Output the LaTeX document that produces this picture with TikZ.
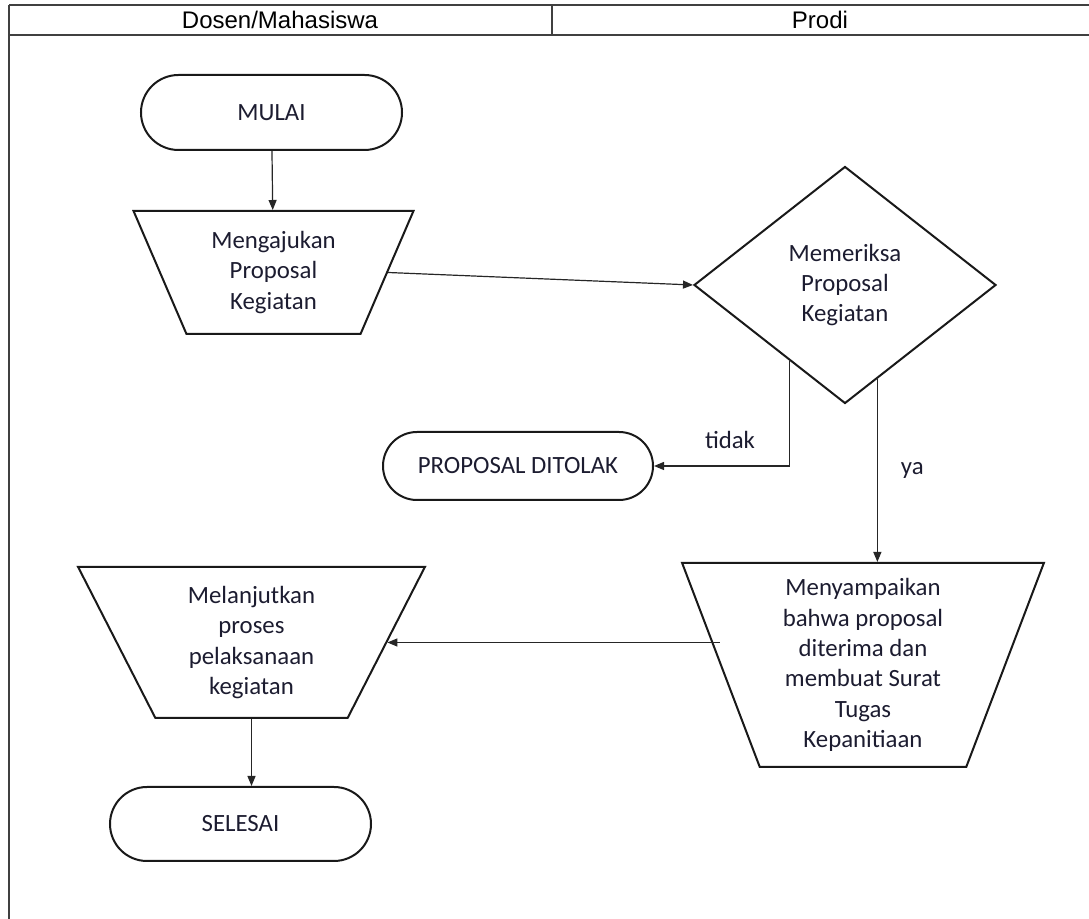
\documentclass[tikz,border=0pt]{standalone}
\usepackage{fontspec}
\setmainfont{Carlito}
\newfontfamily\headfont{Liberation Sans}
\usetikzlibrary{shapes.geometric,shapes.misc,arrows.meta}
\definecolor{txt}{RGB}{28,28,48}
\begin{document}
\begin{tikzpicture}[x=0.5pt,y=-0.5pt,
  every node/.style={font=\fontsize{12.4}{15.2}\selectfont, text=txt},
  term/.style={rounded rectangle, draw=black!90, line width=1pt, inner sep=0pt},
  proc/.style={trapezium, shape border rotate=180, trapezium stretches=true, draw=black!90, line width=1pt, inner sep=0pt, align=center},
  decide/.style={diamond, draw=black!90, line width=1pt, inner sep=0pt, align=center},
  conn/.style={draw=black!85, line width=0.6pt, -{Triangle[length=5pt,width=4pt]}},
  lane/.style={draw=black!75, line width=1.3pt},
  head/.style={font=\headfont\fontsize{12}{14}\selectfont, text=black},
  lbl/.style={inner sep=0pt}
]
\useasboundingbox (0,0) rectangle (1089,919);
% swimlane frame
\draw[lane] (9,5) -- (1089,5);
\draw[lane] (9,35) -- (1089,35);
\draw[lane] (9,5) -- (9,919);
\draw[lane] (552,5) -- (552,35);
\node[head] (h1) at (280,20) {Dosen/Mahasiswa};
\node[head] (h2) at (820,20) {Prodi};
% nodes
\node[term, minimum width=130.5pt, minimum height=37.5pt] (mulai) at (271.5,112.5) {MULAI};
\node[proc, minimum width=141.5pt, minimum height=61.5pt, trapezium angle=65.3] (ajukan) at (273.5,272.5) {Mengajukan\\Proposal\\Kegiatan};
\node[decide, minimum width=151pt, minimum height=118.5pt] (periksa) at (845,285) {Memeriksa\\Proposal\\Kegiatan};
\node[term, minimum width=135pt, minimum height=34pt] (tolak) at (518,466) {PROPOSAL DITOLAK};
\node[proc, minimum width=181pt, minimum height=102pt, trapezium angle=70.8] (sampaikan) at (863,665) {Menyampaikan\\bahwa proposal\\diterima dan\\membuat Surat\\Tugas\\Kepanitiaan};
\node[proc, minimum width=173.5pt, minimum height=75.5pt, trapezium angle=65.6] (lanjut) at (251.5,642.5) {Melanjutkan\\proses\\pelaksanaan\\kegiatan};
\node[term, minimum width=130.5pt, minimum height=37pt] (selesai) at (240.5,824) {SELESAI};
% connectors
\draw[conn] (mulai) -- (ajukan);
\draw[conn] (ajukan.east) -- (periksa.west);
\draw[conn] (periksa.234) |- (tolak.east) node[lbl, pos=0.72, above=8.5pt] {tidak};
\draw[conn] (periksa.289) -- (periksa.289 |- sampaikan.north) node[lbl, midway, right=11.5pt] {ya};
\draw[conn] (sampaikan.west |- lanjut.east) -- (lanjut.east);
\draw[conn] (lanjut.south) -- (lanjut.south |- selesai.north);
\end{tikzpicture}
\end{document}
